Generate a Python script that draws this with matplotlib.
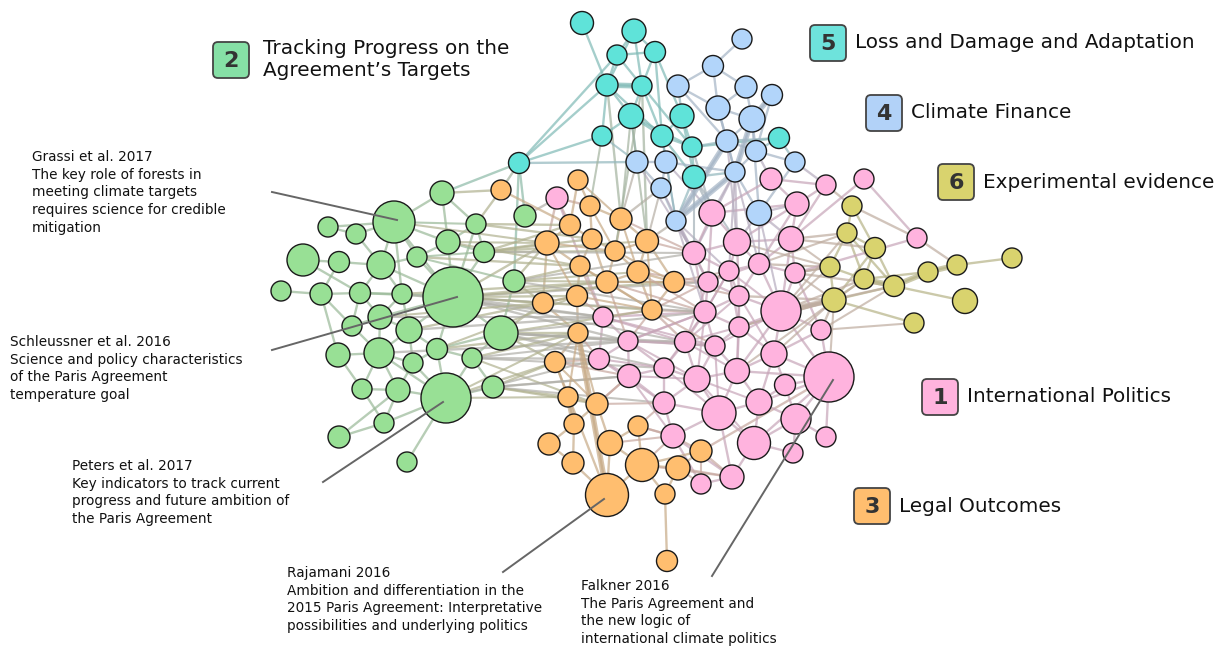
import matplotlib.pyplot as plt
import numpy as np
from matplotlib.patches import Circle, FancyBboxPatch
from matplotlib.collections import LineCollection
from matplotlib.colors import to_rgb

W, H = 1220, 648

# node positions (pixels) and radii, one set of lists per community
green_x = [394, 453, 446, 442, 328, 356, 525, 476, 448, 303, 339, 381, 417, 484, 281, 321, 360,
           402, 514, 352, 380, 409, 501, 338, 379, 413, 437, 472, 362, 398, 493, 384, 339, 407]
green_y = [222, 297, 398, 193, 227, 234, 216, 224, 242, 260, 262, 265, 257, 252, 291, 294, 293,
           294, 281, 326, 317, 330, 333, 355, 353, 363, 349, 358, 389, 390, 387, 423, 437, 462]
green_r = [21, 30, 25, 12, 10, 10, 11, 10, 12, 16, 10.5, 14, 10, 10.5, 10, 11, 10.5,
           10, 11, 10, 12, 13, 17, 12, 15, 10, 10.5, 10, 10, 12, 11, 10, 11, 10]

orange_x = [607, 501, 578, 590, 621, 570, 547, 592, 647, 615, 580, 638, 607, 674, 543, 577,
            652, 578, 555, 568, 597, 574, 549, 638, 610, 573, 642, 678, 701, 665, 667]
orange_y = [495, 190, 180, 206, 219, 225, 243, 239, 241, 251, 266, 272, 282, 282, 303, 296,
            310, 333, 362, 397, 404, 424, 444, 426, 443, 463, 465, 468, 451, 494, 561]
orange_r = [21.5, 10, 10, 10, 11, 10.5, 12, 10, 11.5, 10, 10, 11, 11, 10.5, 10.5, 10.5,
            10, 10, 10.5, 10, 11, 10, 11, 10, 12.5, 11, 16.5, 12, 11, 10, 10.5]

pink_x = [829, 557, 771, 826, 864, 712, 797, 694, 737, 791, 917, 708, 729, 759, 795, 603, 705,
          739, 781, 628, 685, 715, 739, 821, 599, 629, 664, 697, 737, 774, 785, 664, 719, 759,
          796, 673, 754, 826, 793, 732, 701]
pink_y = [377, 198, 179, 185, 179, 213, 204, 253, 242, 239, 238, 282, 271, 264, 273, 317, 312,
          296, 311, 341, 342, 346, 327, 330, 359, 376, 368, 379, 371, 354, 385, 403, 413, 402,
          419, 436, 443, 437, 453, 477, 484]
pink_r = [25, 11, 11, 10, 10, 13, 12, 11.5, 13.5, 12.5, 10, 10, 10, 10.5, 10, 10, 11,
          10, 20, 10, 10.5, 10, 10, 10, 10.5, 11.5, 10, 13, 12.5, 13, 10.5, 11, 17, 13,
          15, 12, 16.5, 10, 10, 12, 10]

blue_x = [742, 713, 678, 746, 772, 718, 752, 727, 756, 795, 637, 666, 735, 661, 676, 759]
blue_y = [39, 66, 86, 87, 95, 108, 119, 141, 151, 162, 162, 162, 172, 188, 221, 213]
blue_r = [10, 10.5, 11, 11, 10.5, 12, 13, 11, 10.5, 10, 11, 11, 10, 10, 10, 12.5]

cyan_x = [582, 634, 617, 655, 607, 642, 631, 682, 602, 662, 692, 779, 519, 694]
cyan_y = [23, 31, 55, 52, 85, 86, 116, 116, 136, 136, 147, 138, 163, 177]
cyan_r = [11.5, 12, 10, 10.5, 11, 10, 12.5, 12, 10, 11, 10, 10.5, 10.5, 11.5]

yellow_x = [852, 847, 875, 1012, 957, 928, 830, 864, 894, 965, 834, 914]
yellow_y = [206, 233, 248, 258, 265, 272, 267, 279, 286, 301, 300, 323]
yellow_r = [10, 10, 10.5, 10, 10, 10, 10, 10, 10.5, 12.5, 12, 10]

# links, written as node -> neighbours
links = {
    "C0": "C4", "C1": "C2 C3 C5 C4", "C2": "C3 C4 C5 C12", "C3": "C5 C7 C9",
    "C4": "C5 C6 C8 C12 O4 C9", "C5": "C6 C9 O8 C10", "C6": "C9 C10 C8 B10",
    "C7": "C9 C10 C13 B2", "C9": "C10 C13 B11", "C10": "C13 C11 B7 P5",
    "C11": "B7 B8 B9", "C12": "O1 G6 G3 B10 G18", "C13": "B14 B12 P5", "C8": "C12",
    "B0": "B1", "B1": "B2 B5 B3", "B2": "B5 B7", "B3": "B5 B6", "B4": "B6 B8",
    "B5": "B6 B7 B12", "B6": "B7 B8 B12 B15", "B7": "B8 B12 B14", "B8": "B12 B9 P2",
    "B9": "B15 P3", "B10": "B11 B13", "B11": "B13 B12", "B12": "B15 B14 P5 P7 P8",
    "B13": "B14 O4", "B14": "P7 P11 O8", "B15": "P6 P9 P8",
    "Y0": "Y1 P10 P3 Y2", "Y1": "Y2 Y6 Y7 Y8 P9", "Y2": "Y7 Y8 Y10 P9", "Y3": "Y4",
    "Y4": "Y5 P10", "Y5": "Y8 Y7", "Y6": "Y7 Y10 P14 P13", "Y7": "Y8 Y10 P18",
    "Y8": "Y10 Y9 P18 P14", "Y10": "Y11 P18 P23 P22 P17",
    "P0": "P23 P29 P30 P34 P37 P18 P33 P28 P36 O28", "P1": "O5 O6 O3 G6 P15",
    "P2": "P3 P6 P5", "P3": "P6 P9", "P4": "P9 P10", "P5": "P7 P8 P11 P6",
    "P6": "P9 P8 P13", "P7": "P11 P8 P12 P16", "P8": "P12 P13 P9 P17",
    "P9": "P13 P14 P18", "P10": "P14", "P11": "P12 P16 P17", "P12": "P17 P13 P22",
    "P13": "P17 P18 P14", "P14": "P18 P23", "P15": "P19 P24 P16 O16",
    "P16": "P20 P21 P22 P17 P19", "P17": "P18 P22", "P18": "P22 P23 P29 P28",
    "P19": "P20 P24 P25 P26", "P20": "P21 P26 P27", "P21": "P22 P27 P28",
    "P22": "P29 P28", "P23": "P29", "P24": "P25 O18", "P25": "P26 P31 O20",
    "P26": "P27 P31", "P27": "P28 P32 P31", "P28": "P29 P32 P33", "P29": "P30 P33",
    "P30": "P34 P33", "P31": "P32 P35", "P32": "P33 P36 P35 P39", "P33": "P34 P36",
    "P34": "P36 P37 P38", "P35": "P39 P40 O23", "P36": "P38 P39", "P39": "P40",
    "O1": "O5 G3 G7", "O2": "O3 O5", "O3": "O4 O7", "O4": "O8 O9", "O5": "O6 O7",
    "O6": "O10 O14 G13", "O7": "O9 O10 O12", "O8": "O9 O11 O13", "O9": "O11 O12",
    "O10": "O15 O12", "O11": "O12 O13 O16", "O12": "O15 O16", "O13": "O16 P11",
    "O14": "O15 O17 G18", "O15": "O17", "O16": "P16 P20", "O17": "O18 O0",
    "O18": "O19 O0", "O19": "O21 O20", "O20": "O24 O21", "O21": "O22 O25",
    "O22": "O25", "O23": "O24 O26", "O24": "O26 O0", "O25": "O0",
    "O26": "O27 O29 O28 O0", "O27": "O28 O29", "O29": "O30", "O28": "P39",
    "G0": "G3 G5 G8 G11 G12 G17 G1 G4",
    "G1": "G8 G12 G13 G17 G21 G22 G26 G20 G11 G7 G16 O6 O14 O15 P15 P19 O12",
    "G2": "G26 G27 G29 G25 G30 G33 G31 G24 O18",
    "G3": "G8 G7", "G4": "G5", "G5": "G11", "G7": "G8 G13 O5 O7", "G8": "G12 G13",
    "G9": "G10 G16", "G10": "G11 G15", "G11": "G12 G16 G17", "G12": "O10",
    "G13": "O5 O7", "G14": "G15", "G15": "G16 G19 G23", "G16": "G17 G20 G19",
    "G17": "G20 G21 O12 P15", "G18": "O6 O10", "G19": "G20 G24", "G20": "G21 G24",
    "G21": "G26 G24 G25 O15 P15", "G22": "G26 G27 G18 O14 O17 P24 P19 O18",
    "G23": "G24 G28", "G24": "G25 G28 G29 P19", "G25": "G26 G29", "G26": "G27 O17",
    "G27": "O17 P24", "G28": "G29 G31", "G29": "G31 G32", "G31": "G32",
    "G30": "G27 O18 O19 P25",
}
# the long links that cross the middle of the map
extra = {
    "G1": "P16 P20 O16 P11 O13", "G22": "P20 P26 P21 O16 P16", "G18": "O11 P7 O13 P16",
    "G13": "O8 O9 P7", "G27": "P19 P26 O20", "G30": "P31 O20 P25", "G2": "O17 O19 P24",
    "G8": "O6 O10", "G0": "O6 G7", "G12": "G13 G18", "G26": "O15", "G20": "O14 P15",
    "P18": "Y6 Y1", "P29": "Y10", "P23": "Y8 Y11", "P13": "Y1", "P14": "Y6 Y10",
    "P8": "Y6", "P9": "Y6", "P0": "Y10", "P22": "Y10", "P28": "Y7",
    "P16": "P12 P26 P27", "P11": "P20 P13", "P12": "P16 P18", "P19": "P16 P27 P21",
    "P20": "P22 P17 P28", "P21": "P18 P32", "P17": "P28 P29", "P26": "P32",
    "P27": "P33 P36", "P25": "P35 P27", "P24": "P26 P31", "P15": "P20 P21",
    "O12": "P16 P19 O13", "O16": "P19 P21 P12", "O15": "P15 O16", "O10": "O16 P15",
    "O11": "P11 P16", "O13": "P12 P17", "O9": "O13", "O4": "O11 P7", "O8": "P7 O16",
    "O3": "O9", "O6": "O15 O9", "O2": "O4", "O17": "P24 O19 O20", "O18": "P25 O20",
    "O20": "P31 P25", "O23": "P31 P35", "O24": "P35", "O26": "P35 P39",
    "O27": "P39 P40", "O28": "P35 P40",
    "B14": "P16 P12", "B13": "P7 O8", "B11": "P5 B14", "B10": "O4 P7", "C13": "P7 P8",
    "C9": "B14", "B15": "P13 P18", "B12": "P12 P13", "B7": "P8", "C6": "O4 O8",
    "C8": "O3 B10", "C5": "O9",
}
strong = {"C4": "C5", "B6": "B12", "B12": "B14", "B4": "B6", "Y5": "Y8", "Y4": "Y5",
          "O17": "O0", "O21": "O19", "Y7": "Y8", "B7": "B14", "Y10": "P18"}

colors = {"G": "#98e095", "O": "#ffbe6f", "P": "#ffb3de",
          "B": "#b2d5fa", "C": "#5fe3d9", "Y": "#d9d36e"}

nodes = {}
for key, xs, ys, rs in [("G", green_x, green_y, green_r), ("O", orange_x, orange_y, orange_r),
                        ("P", pink_x, pink_y, pink_r), ("B", blue_x, blue_y, blue_r),
                        ("C", cyan_x, cyan_y, cyan_r), ("Y", yellow_x, yellow_y, yellow_r)]:
    for i in range(len(xs)):
        nodes[key + str(i)] = (xs[i], ys[i], rs[i])

fig = plt.figure(figsize=(12.2, 6.48), dpi=100)
ax = fig.add_axes([0, 0, 1, 1])
ax.set_xlim(0, W)
ax.set_ylim(H, 0)
ax.axis("off")

segs, cols, widths = [], [], []
grey = np.array([0.6, 0.6, 0.6])
for table, lw in [(links, 1.7), (extra, 1.5), (strong, 4.0)]:
    for a, nb in table.items():
        for b in nb.split():
            xa, ya, _ = nodes[a]
            xb, yb, _ = nodes[b]
            segs.append([(xa, ya), (xb, yb)])
            c = (np.array(to_rgb(colors[a[0]])) + np.array(to_rgb(colors[b[0]]))) / 2
            c = 0.45 * c + 0.55 * grey
            cols.append((*c, 0.7))
            widths.append(lw)
ax.add_collection(LineCollection(segs, colors=cols, linewidths=widths, zorder=1))

for n, (x, y, r) in nodes.items():
    ax.add_patch(Circle((x, y), r, fc=colors[n[0]], ec="#1a1a1a", lw=1.0, zorder=2))

# annotation leader lines
leaders = [((272, 192), (397, 220)), ((272, 350), (457, 297)), ((323, 482), (443, 402)),
           ((503, 572), (604, 499)), ((712, 576), (833, 380))]
for p, q in leaders:
    ax.plot([p[0], q[0]], [p[1], q[1]], color="#666666", lw=1.4, zorder=3)

# community labels: number, name, box x, text x, centre y, colour
labels = [("2", "Tracking Progress on the\nAgreement\u2019s Targets", 213, 263, 60, "#86e0a6"),
          ("5", "Loss and Damage and Adaptation", 810, 855, 43, "#6ee3dc"),
          ("4", "Climate Finance", 866, 911, 113, "#b2d2f8"),
          ("6", "Experimental evidence", 938, 983, 182, "#d9d36e"),
          ("1", "International Politics", 922, 967, 397, "#ffb3de"),
          ("3", "Legal Outcomes", 854, 899, 506, "#ffbe6f")]
for num, txt, x, tx, y, fc in labels:
    ax.add_patch(FancyBboxPatch((x + 2, y - 16), 32, 32, boxstyle="round,pad=2,rounding_size=5",
                                fc=fc, ec="#444444", lw=1.3, zorder=4))
    ax.text(x + 18, y + 1, num, ha="center", va="center", fontsize=16, fontweight="bold",
            color="#333333", zorder=5)
    ax.text(tx, y, txt, ha="left", va="center", fontsize=14.4, color="#111111",
            linespacing=1.2, zorder=5)

notes = [(32, 150, "Grassi et al. 2017\nThe key role of forests in\nmeeting climate targets\n"
                   "requires science for credible\nmitigation"),
         (10, 335, "Schleussner et al. 2016\nScience and policy characteristics\n"
                   "of the Paris Agreement\ntemperature goal"),
         (72, 459, "Peters et al. 2017\nKey indicators to track current\n"
                   "progress and future ambition of\nthe Paris Agreement"),
         (287, 566, "Rajamani 2016\nAmbition and differentiation in the\n"
                    "2015 Paris Agreement: Interpretative\npossibilities and underlying politics"),
         (581, 579, "Falkner 2016\nThe Paris Agreement and\nthe new logic of\n"
                    "international climate politics")]
for x, y, txt in notes:
    ax.text(x, y, txt, ha="left", va="top", fontsize=9.8, color="#111111",
            linespacing=1.34, zorder=5)

fig.savefig("out.png", dpi=100)
